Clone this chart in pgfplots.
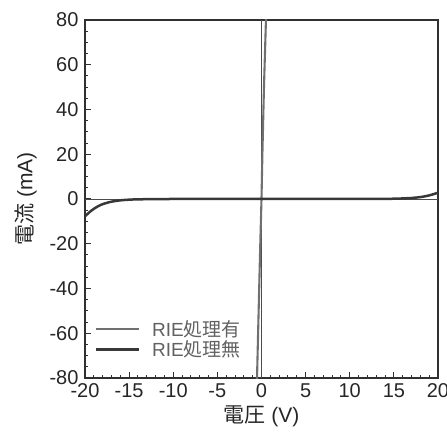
\documentclass[border=0pt]{standalone}
\usepackage{fontspec}
\setmainfont{Liberation Sans}
\newfontfamily\jp{Noto Sans CJK JP}
\usepackage{pgfplots}
\pgfplotsset{compat=1.18}
\definecolor{lineA}{HTML}{707070}
\definecolor{lineB}{HTML}{383838}
\definecolor{axc}{HTML}{303030}
\begin{document}
\begin{tikzpicture}
\begin{axis}[
  scale only axis, width=353bp, height=358bp,
  xmin=-20, xmax=20, ymin=-80, ymax=80,
  xtick={-20,-15,...,20}, ytick={-80,-60,...,80},
  minor x tick num=4, minor y tick num=3,
  tick pos=left, tick align=inside,
  major tick length=6bp, minor tick length=3.5bp,
  every tick/.style={axc, line width=1bp},
  axis line style={axc, line width=1.5bp},
  /pgf/number format/assume math mode=true,
  ticklabel style={font=\fontsize{20bp}{24bp}\selectfont, text=black!85},
  xticklabel style={yshift=-2bp},
  yticklabel style={xshift=-3bp},
  xlabel={{\jp 電圧} (V)},
  ylabel={{\jp 電流} (mA)},
  xlabel style={font=\fontsize{21bp}{25bp}\selectfont, yshift=-1bp, text=black!85},
  ylabel style={font=\fontsize{21bp}{25bp}\selectfont, yshift=6bp, text=black!85},
  legend style={draw=none, fill=none, at={(0.02,0.045)}, anchor=south west,
    font=\fontsize{19bp}{23bp}\selectfont, text=black!62, row sep=0bp,
    nodes={inner sep=1.5bp}},
  legend cell align=left,
  legend image code/.code={\draw[#1] (0bp,0bp) -- (43bp,0bp); \path (53bp,0bp);},
  clip=true,
]
\draw[black!70, line width=0.9bp] (axis cs:-20,0) -- (axis cs:20,0);
\draw[black!70, line width=0.9bp] (axis cs:0,-80) -- (axis cs:0,80);
\addplot[lineA, line width=2.1bp, no markers] coordinates {
  (-0.52,-82) (-0.17,-25) (0,0) (0.10,20) (0.28,50) (0.52,82)
};
\addlegendentry{RIE{\jp 処理有}}
\addplot[lineB, line width=2.5bp, no markers, smooth] coordinates {
  (-20,-7.8) (-19.5,-5.9) (-19,-4.4) (-18.5,-3.2) (-18,-2.3) (-17.5,-1.7)
  (-17,-1.2) (-16,-0.6) (-15,-0.3) (-14,-0.15) (-12,-0.05) (-10,0)
  (0,0) (10,0) (13,0.03) (15,0.12) (16,0.25) (17,0.45) (18,0.85)
  (19,1.6) (20,2.8)
};
\addlegendentry{RIE{\jp 処理無}}
\end{axis}
\pgfresetboundingbox
\useasboundingbox (-85bp,-55bp) rectangle (362bp,378bp);
\end{tikzpicture}
\end{document}
